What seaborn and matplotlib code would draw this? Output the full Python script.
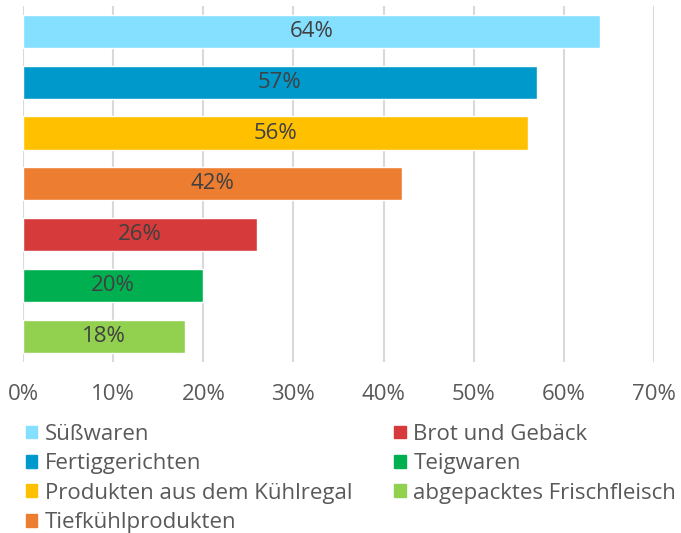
import pandas as pd
import matplotlib
matplotlib.use('Agg')
import matplotlib.pyplot as plt
import matplotlib.patches as mpatches
from matplotlib.ticker import PercentFormatter
import seaborn as sns

# data
categories = ['Süßwaren', 'Fertiggerichten', 'Produkten aus dem Kühlregal',
              'Tiefkühlprodukten', 'Brot und Gebäck', 'Teigwaren',
              'abgepacktes Frischfleisch']
shares = [64, 57, 56, 42, 26, 20, 18]
colors = ['#85DFFF', '#0099CC', '#FFC000', '#ED7D31', '#D63A3A', '#00B050', '#92D050']

df = pd.DataFrame({'Kategorie': categories, 'Anteil': shares})
palette = dict(zip(categories, colors))

sns.set_style('white')
plt.rcParams['font.family'] = ['Open Sans', 'DejaVu Sans']
text_col = '#595959'

fig = plt.figure(figsize=(6.81, 5.33), dpi=100)
ax = fig.add_axes([0.034, 0.321, 0.926, 0.668])

sns.barplot(data=df, x='Anteil', y='Kategorie', hue='Kategorie', palette=palette,
            orient='h', width=0.65, dodge=False, legend=False, ax=ax, zorder=3,
            saturation=1)

for c in ax.containers:
    ax.bar_label(c, labels=[f'{v:.0f}%' for v in c.datavalues], label_type='center',
                 fontsize=16, color='#404040')

ax.set_xlim(0, 70)
ax.set_ylim(6.5, -0.5)
ax.set_xticks(range(0, 71, 10))
ax.xaxis.set_major_formatter(PercentFormatter(decimals=0))
ax.grid(axis='x', color='#D9D9D9', linewidth=1.5, zorder=0)
ax.grid(axis='y', visible=False)
ax.set_axisbelow(True)
ax.set_yticks([])
ax.set_xlabel('')
ax.set_ylabel('')
ax.tick_params(axis='x', length=0, pad=16, labelsize=16, labelcolor=text_col)
for s in ax.spines.values():
    s.set_visible(False)

handles = [mpatches.Patch(color=palette[c], label=c) for c in categories]
fig.legend(handles=handles, ncol=2, loc='upper left', bbox_to_anchor=(0.038, 0.205),
           frameon=False, fontsize=16, labelcolor=text_col, handlelength=0.5,
           handleheight=0.5, handletextpad=0.35, labelspacing=0.38,
           columnspacing=1.9, borderaxespad=0, borderpad=0)

fig.savefig('out.png', dpi=100)
